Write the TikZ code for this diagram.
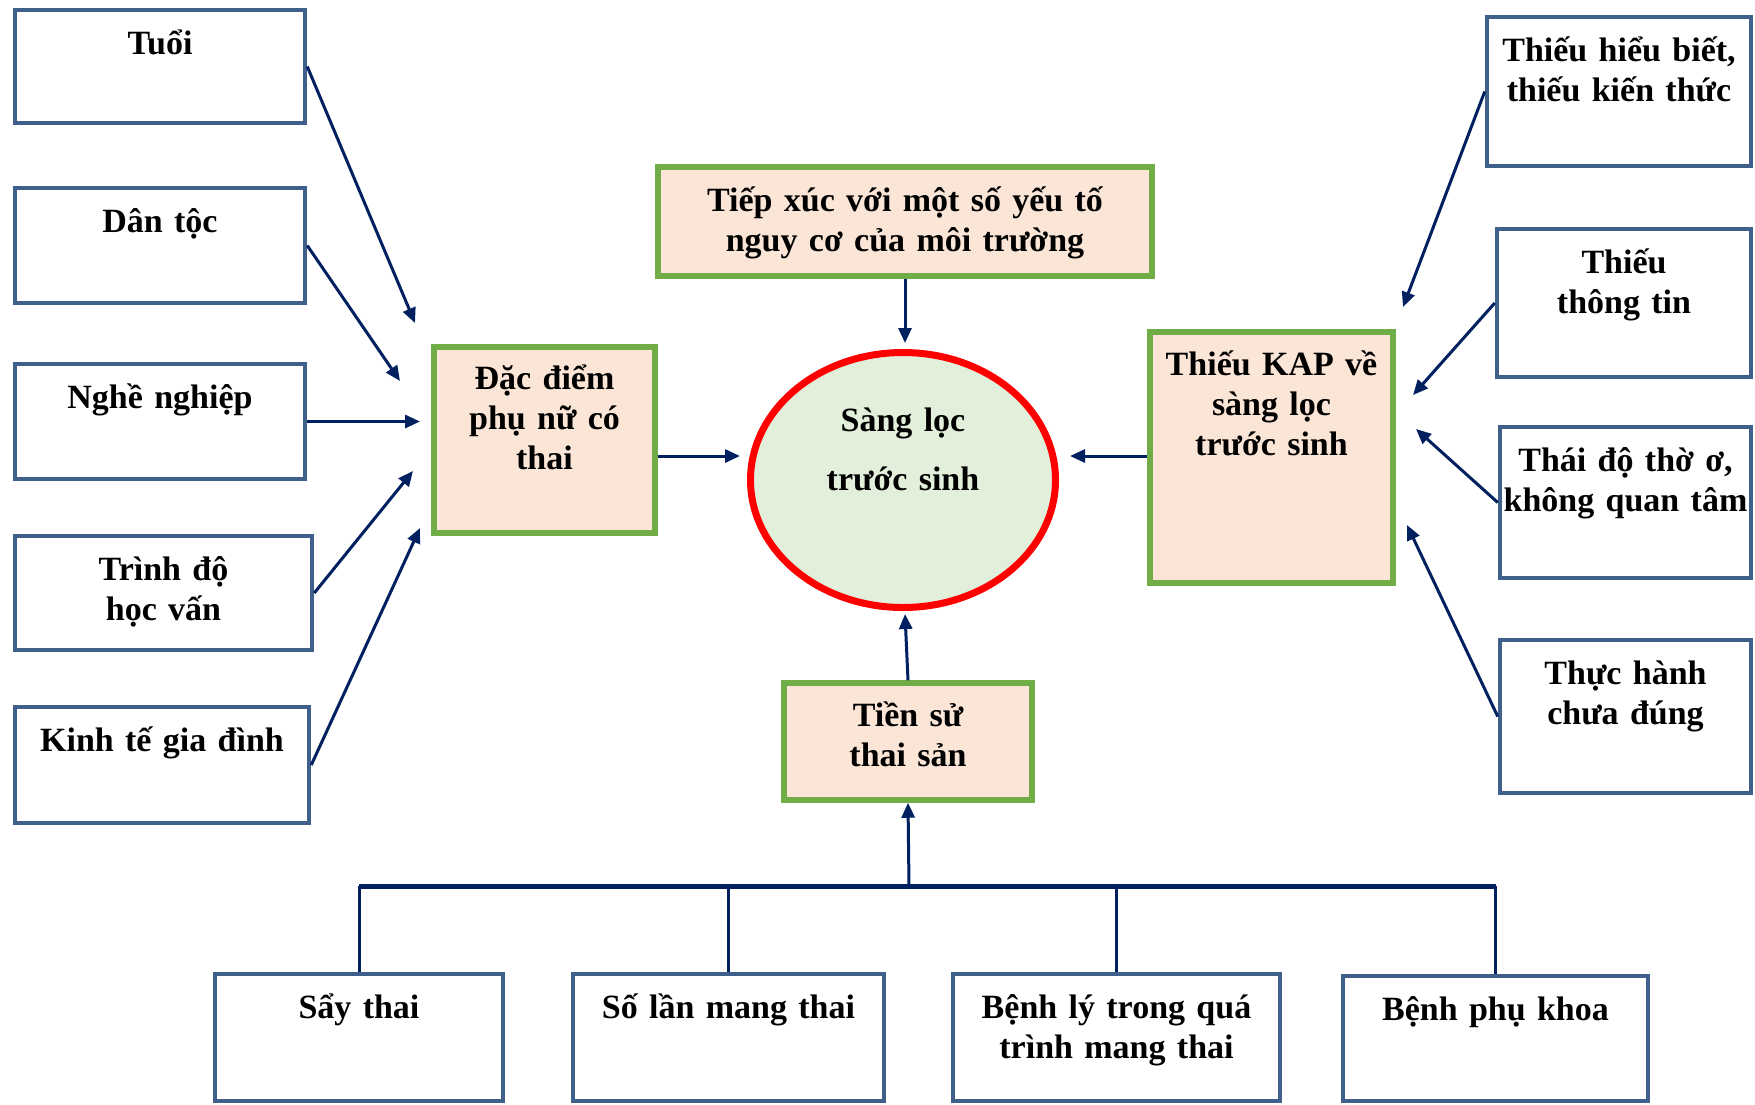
\documentclass[tikz,border=0pt]{standalone}
\usepackage{fontspec}
\setmainfont{Liberation Serif}
\usetikzlibrary{arrows.meta,shapes.geometric}
\definecolor{boxblue}{RGB}{64,96,140}
\definecolor{navyline}{RGB}{0,32,96}
\definecolor{kgreen}{RGB}{112,173,71}
\definecolor{peach}{RGB}{251,229,214}
\definecolor{elgreen}{RGB}{226,239,218}
\newcommand{\diagfont}{\fontsize{34}{40}\selectfont\bfseries}
\newcommand{\ellfont}{\fontsize{34}{59}\selectfont\bfseries}
\begin{document}
\begin{tikzpicture}[x=1pt,y=-1pt,
  bbox/.style={draw=boxblue, line width=4.5pt, fill=white, inner sep=0pt},
  gbox/.style={draw=kgreen, line width=5.5pt, fill=peach, inner sep=0pt},
  lab/.style={anchor=base, text width=420pt, align=center, inner sep=0pt, font=\diagfont},
  arr/.style={draw=navyline, line width=3pt, -{Triangle[length=15pt,width=13pt]}},
  link/.style={draw=navyline, line width=3pt},
  buslink/.style={draw=navyline, line width=5pt},
]
\useasboundingbox[fill=white] (0,0) rectangle (1755,1104);

% left factors
\node[bbox, minimum width=290pt, minimum height=113pt, label={[lab, yshift=-46.5pt]north:{Tuổi}}] (tuoi) at (160,66.5) {};
\node[bbox, minimum width=290pt, minimum height=115pt, label={[lab, yshift=-46.5pt]north:{Dân tộc}}] (dantoc) at (160,245.5) {};
\node[bbox, minimum width=290pt, minimum height=115pt, label={[lab, yshift=-46.5pt]north:{Nghề nghiệp}}] (nghe) at (160,421.5) {};
\node[bbox, minimum width=297pt, minimum height=114pt, label={[lab, yshift=-46.5pt]north:{Trình độ\\học vấn}}] (trinhdo) at (163.5,593) {};
\node[bbox, minimum width=294pt, minimum height=116pt, label={[lab, yshift=-46.5pt]north:{Kinh tế gia đình}}] (kinhte) at (162,765) {};

% right factors
\node[bbox, minimum width=264pt, minimum height=149pt, label={[lab, yshift=-46.5pt]north:{Thiếu hiểu biết,\\thiếu kiến thức}}] (hieubiet) at (1619,91.5) {};
\node[bbox, minimum width=254pt, minimum height=148pt, label={[lab, yshift=-46.5pt]north:{Thiếu\\thông tin}}] (thongtin) at (1624,303) {};
\node[bbox, minimum width=251pt, minimum height=151pt, label={[lab, yshift=-46.5pt]north:{Thái độ thờ ơ,\\không quan tâm}}] (thaido) at (1625.5,502.5) {};
\node[bbox, minimum width=251pt, minimum height=153pt, label={[lab, yshift=-46.5pt]north:{Thực hành\\chưa đúng}}] (thuchanh) at (1625.5,716.5) {};

% bottom factors
\node[bbox, minimum width=288pt, minimum height=127pt, label={[lab, yshift=-46.5pt]north:{Sẩy thai}}] (saythai) at (359,1037.5) {};
\node[bbox, minimum width=311pt, minimum height=127pt, label={[lab, yshift=-46.5pt]north:{Số lần mang thai}}] (solan) at (728.5,1037.5) {};
\node[bbox, minimum width=327pt, minimum height=127pt, label={[lab, yshift=-46.5pt]north:{Bệnh lý trong quá\\trình mang thai}}] (benhly) at (1116.5,1037.5) {};
\node[bbox, minimum width=305pt, minimum height=125pt, label={[lab, yshift=-46.5pt]north:{Bệnh phụ khoa}}] (phukhoa) at (1495.5,1038.5) {};

% green group boxes
\node[gbox, minimum width=221pt, minimum height=186pt, label={[lab, yshift=-45.5pt]north:{Đặc điểm\\phụ nữ có\\thai}}] (dacdiem) at (544.5,440) {};
\node[gbox, minimum width=494pt, minimum height=109pt, label={[lab, yshift=-47pt]north:{Tiếp xúc với một số yếu tố\\nguy cơ của môi trường}}] (tiepxuc) at (905,221.5) {};
\node[gbox, minimum width=243pt, minimum height=251pt, label={[lab, yshift=-46.5pt]north:{Thiếu KAP về\\sàng lọc\\trước sinh}}] (kap) at (1271.5,457.5) {};
\node[gbox, minimum width=248pt, minimum height=117pt, label={[lab, yshift=-46pt]north:{Tiền sử\\thai sản}}] (tiensu) at (908,741.5) {};

% central ellipse
\node[ellipse, draw=red, line width=7pt, fill=elgreen, minimum width=305pt, minimum height=255pt, inner sep=0pt,
      label={[lab, font=\ellfont, yshift=31pt]center:{Sàng lọc\\trước sinh}}] (sl) at (903,480) {};

% arrow tips (free ends)
\coordinate (tTuoi) at (415,323);
\coordinate (tDan) at (400,381);
\coordinate (tNghe) at (420,421.5);
\coordinate (tTrinh) at (413,471);
\coordinate (tKinh) at (420,528);
\coordinate (tL) at (740,456);
\coordinate (tT) at (905,343);
\coordinate (tR) at (1070,456);
\coordinate (tB) at (905,614);
\coordinate (tHieu) at (1403,307);
\coordinate (tThong) at (1413,395);
\coordinate (tThai) at (1416,429);
\coordinate (tThuc) at (1407,525);
\coordinate (bus) at (909,886);

\draw[arr] (tuoi.east) -- (tTuoi);
\draw[arr] (dantoc.east) -- (tDan);
\draw[arr] (nghe.east) -- (tNghe);
\draw[arr] (trinhdo.east) -- (tTrinh);
\draw[arr] (kinhte.east) -- (tKinh);

\draw[arr] (dacdiem.east |- tL) -- (tL);
\draw[arr] (tiepxuc.south) -- (tT);
\draw[arr] (kap.west |- tR) -- (tR);
\draw[arr] (tiensu.north) -- (tB);

\draw[arr] (hieubiet.west) -- (tHieu);
\draw[arr] (thongtin.west) -- (tThong);
\draw[arr] (thaido.west) -- (tThai);
\draw[arr] (thuchanh.west) -- (tThuc);

% bottom bus
\draw[buslink] (saythai.north |- bus) -- (phukhoa.north |- bus);
\draw[link] (saythai.north) -- (saythai.north |- bus);
\draw[link] (solan.north) -- (solan.north |- bus);
\draw[link] (benhly.north) -- (benhly.north |- bus);
\draw[link] (phukhoa.north) -- (phukhoa.north |- bus);
\draw[arr] (bus) -- (tiensu.south);
\end{tikzpicture}
\end{document}
